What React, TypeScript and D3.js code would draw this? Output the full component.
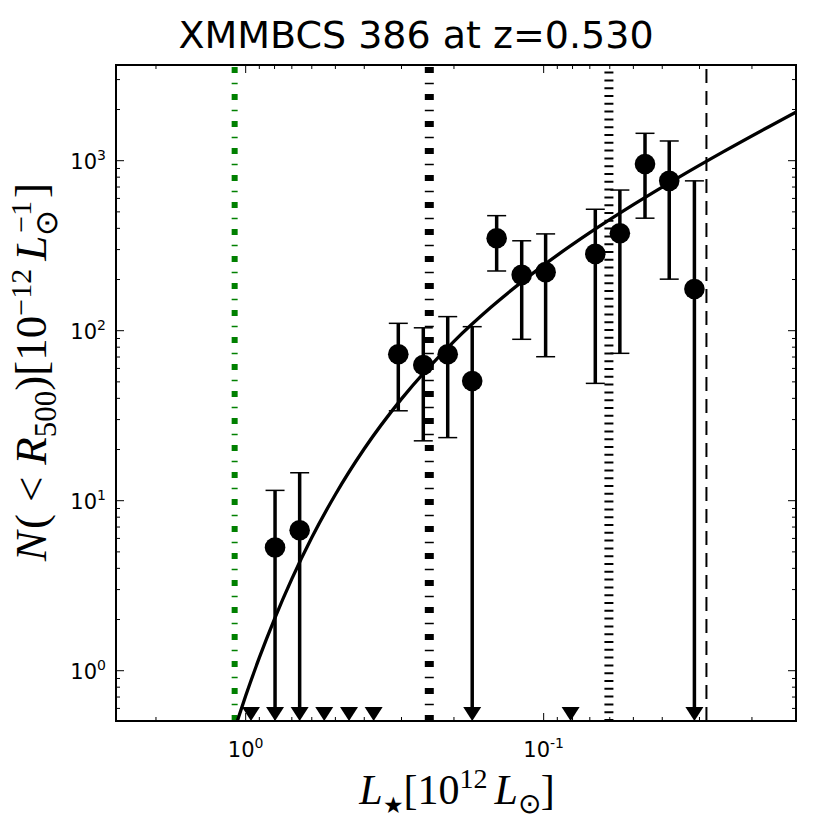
import * as d3 from 'd3'
import React from 'react'

const W = 830
const H = 830
const frame = { left: 116, right: 796, top: 65, bottom: 721 }

// axis limits (x axis runs from bright to faint)
const lumLimits = [2.724, 0.01423]
const nLimits = [0.506, 3655]

// detected bins: luminosity, N, upper and lower error ends (0 = reaches the bottom)
const binLum = [0.797, 0.659, 0.3075, 0.2535, 0.2099, 0.1737, 0.1438, 0.1185, 0.0985, 0.0671, 0.0555, 0.0457, 0.0379, 0.0312]
const binN = [5.3, 6.7, 72.7, 62.8, 72.7, 50.6, 350, 213, 221, 283, 374, 956, 761, 176]
const binHi = [11.5, 14.6, 110.5, 104, 121, 105.6, 475, 338, 371, 518, 672, 1449, 1306, 761]
const binLo = [0, 0, 33.8, 22.5, 23.5, 0, 224.5, 89, 70.3, 49, 73.6, 459, 201, 0]

// empty bins, drawn as upper limits on the bottom axis
const emptyLum = [0.96, 0.545, 0.45, 0.372, 0.0812]

// best-fit curve
const fitLum = [1.075, 1.0, 0.9, 0.8, 0.7, 0.6, 0.5, 0.4, 0.3, 0.2, 0.15, 0.1, 0.07, 0.05, 0.035, 0.025, 0.0142]
const fitN = [0.486, 0.712, 1.193, 2.02, 3.47, 6.07, 10.88, 20.2, 39.7, 86.6, 137.7, 243, 377, 551, 803, 1126, 1936]

// reference luminosities shown as vertical lines
const limitLum = [1.089, 0.242, 0.0604, 0.02843]
const limitStyles = [
  { stroke: '#008000', width: 6, dash: '6 9.75 1.5 9.75' },
  { stroke: '#000', width: 9, dash: '6 9.75 1.5 9.75' },
  { stroke: '#000', width: 9, dash: '2 5.8' },
  { stroke: '#000', width: 2, dash: '14 8' },
]

const mathFont = '"Liberation Serif", serif'
const tickFont = '"DejaVu Sans", sans-serif'

const App: React.FC = () => {
  const x = d3.scaleLog().domain(lumLimits).range([frame.left, frame.right])
  const y = d3.scaleLog().domain(nLimits).range([frame.bottom, frame.top])

  const isMajor = (v: number) => Math.abs(Math.log10(v) - Math.round(Math.log10(v))) < 1e-6
  const xTicks = x.ticks().filter(v => x(v) > frame.left + 1 && x(v) < frame.right - 1)
  const yTicks = y.ticks().filter(v => y(v) < frame.bottom - 1 && y(v) > frame.top + 1)

  const fitLine = d3.line<number>()
    .x((_, i) => x(fitLum[i]))
    .y((_, i) => y(fitN[i]))
    .curve(d3.curveMonotoneX)

  const tri = (cx: number) => {
    const yb = frame.bottom
    return `M${cx - 9},${yb - 14}L${cx + 9},${yb - 14}L${cx},${yb}Z`
  }

  return (
    <svg width={W} height={H} style={{ position: 'absolute', left: 0, top: 0, background: '#fff' }}>
      <defs>
        <clipPath id="plot">
          <rect x={frame.left} y={frame.top} width={frame.right - frame.left} height={frame.bottom - frame.top} />
        </clipPath>
      </defs>

      <text x={416} y={48} textAnchor="middle" fontFamily={tickFont} fontSize={38}>XMMBCS 386 at z=0.530</text>

      <g clipPath="url(#plot)">
        {limitLum.map((v, i) => (
          <line key={i} x1={x(v)} x2={x(v)} y1={frame.bottom} y2={frame.top}
            stroke={limitStyles[i].stroke} strokeWidth={limitStyles[i].width}
            strokeDasharray={limitStyles[i].dash} />
        ))}

        <path d={fitLine(fitN) ?? ''} fill="none" stroke="#000" strokeWidth={3.3} />

        {binLum.map((v, i) => {
          const cx = x(v)
          const lo = binLo[i] > 0 ? y(binLo[i]) : frame.bottom - 8
          return (
            <g key={i}>
              <line x1={cx} x2={cx} y1={y(binHi[i])} y2={lo} stroke="#000" strokeWidth={3.5} />
              <line x1={cx - 9.5} x2={cx + 9.5} y1={y(binHi[i])} y2={y(binHi[i])} stroke="#000" strokeWidth={1.5} />
              {binLo[i] > 0
                ? <line x1={cx - 9.5} x2={cx + 9.5} y1={lo} y2={lo} stroke="#000" strokeWidth={1.5} />
                : <path d={tri(cx)} fill="#000" />}
              <circle cx={cx} cy={y(binN[i])} r={10.3} fill="#000" />
            </g>
          )
        })}

        {emptyLum.map((v, i) => <path key={i} d={tri(x(v))} fill="#000" />)}
      </g>

      <g stroke="#000" strokeWidth={1}>
        {xTicks.map((v, i) => {
          const len = isMajor(v) ? 8 : 4
          return (
            <g key={i}>
              <line x1={x(v)} x2={x(v)} y1={frame.bottom} y2={frame.bottom - len} />
              <line x1={x(v)} x2={x(v)} y1={frame.top} y2={frame.top + len} />
            </g>
          )
        })}
        {yTicks.map((v, i) => {
          const len = isMajor(v) ? 8 : 4
          return (
            <g key={i}>
              <line x1={frame.left} x2={frame.left + len} y1={y(v)} y2={y(v)} />
              <line x1={frame.right} x2={frame.right - len} y1={y(v)} y2={y(v)} />
            </g>
          )
        })}
      </g>

      {xTicks.filter(isMajor).map((v, i) => (
        <text key={i} x={x(v)} y={757} textAnchor="middle" fontFamily={tickFont} fontSize={21}>
          10<tspan dy={-9} fontSize={14}>{Math.round(Math.log10(v))}</tspan>
        </text>
      ))}
      {yTicks.filter(isMajor).map((v, i) => (
        <text key={i} x={106} y={y(v) + 8} textAnchor="end" fontFamily={tickFont} fontSize={21}>
          10<tspan dy={-9} fontSize={14}>{Math.round(Math.log10(v))}</tspan>
        </text>
      ))}

      <rect x={frame.left} y={frame.top} width={frame.right - frame.left} height={frame.bottom - frame.top}
        fill="none" stroke="#000" strokeWidth={2} />

      <text x={457} y={804} textAnchor="middle" fontFamily={mathFont} fontSize={42}>
        <tspan fontStyle="italic">L</tspan>
        <tspan dy={9} fontSize={23}>★</tspan>
        <tspan dy={-9}>[10</tspan>
        <tspan dy={-16} fontSize={28}>12</tspan>
        <tspan dy={16} dx={7} fontStyle="italic">L</tspan>
        <tspan dy={9} fontSize={28}>⊙</tspan>
        <tspan dy={-9}>]</tspan>
      </text>

      <text transform="translate(46,372) rotate(-90)" textAnchor="middle" fontFamily={mathFont} fontSize={45}>
        <tspan fontStyle="italic">N</tspan>
        <tspan dx={2}>(</tspan>
        <tspan dx={12}>&lt;</tspan>
        <tspan dx={12} fontStyle="italic">R</tspan>
        <tspan dy={10} fontSize={31}>500</tspan>
        <tspan dy={-10}>)[10</tspan>
        <tspan dy={-15} fontSize={30}>−12</tspan>
        <tspan dy={15} dx={8} fontStyle="italic">L</tspan>
        <tspan dy={11} fontSize={31}>⊙</tspan>
        <tspan dy={-26} dx={-23} fontSize={30}>−1</tspan>
        <tspan dy={15} dx={3}>]</tspan>
      </text>
    </svg>
  )
}

export default App
